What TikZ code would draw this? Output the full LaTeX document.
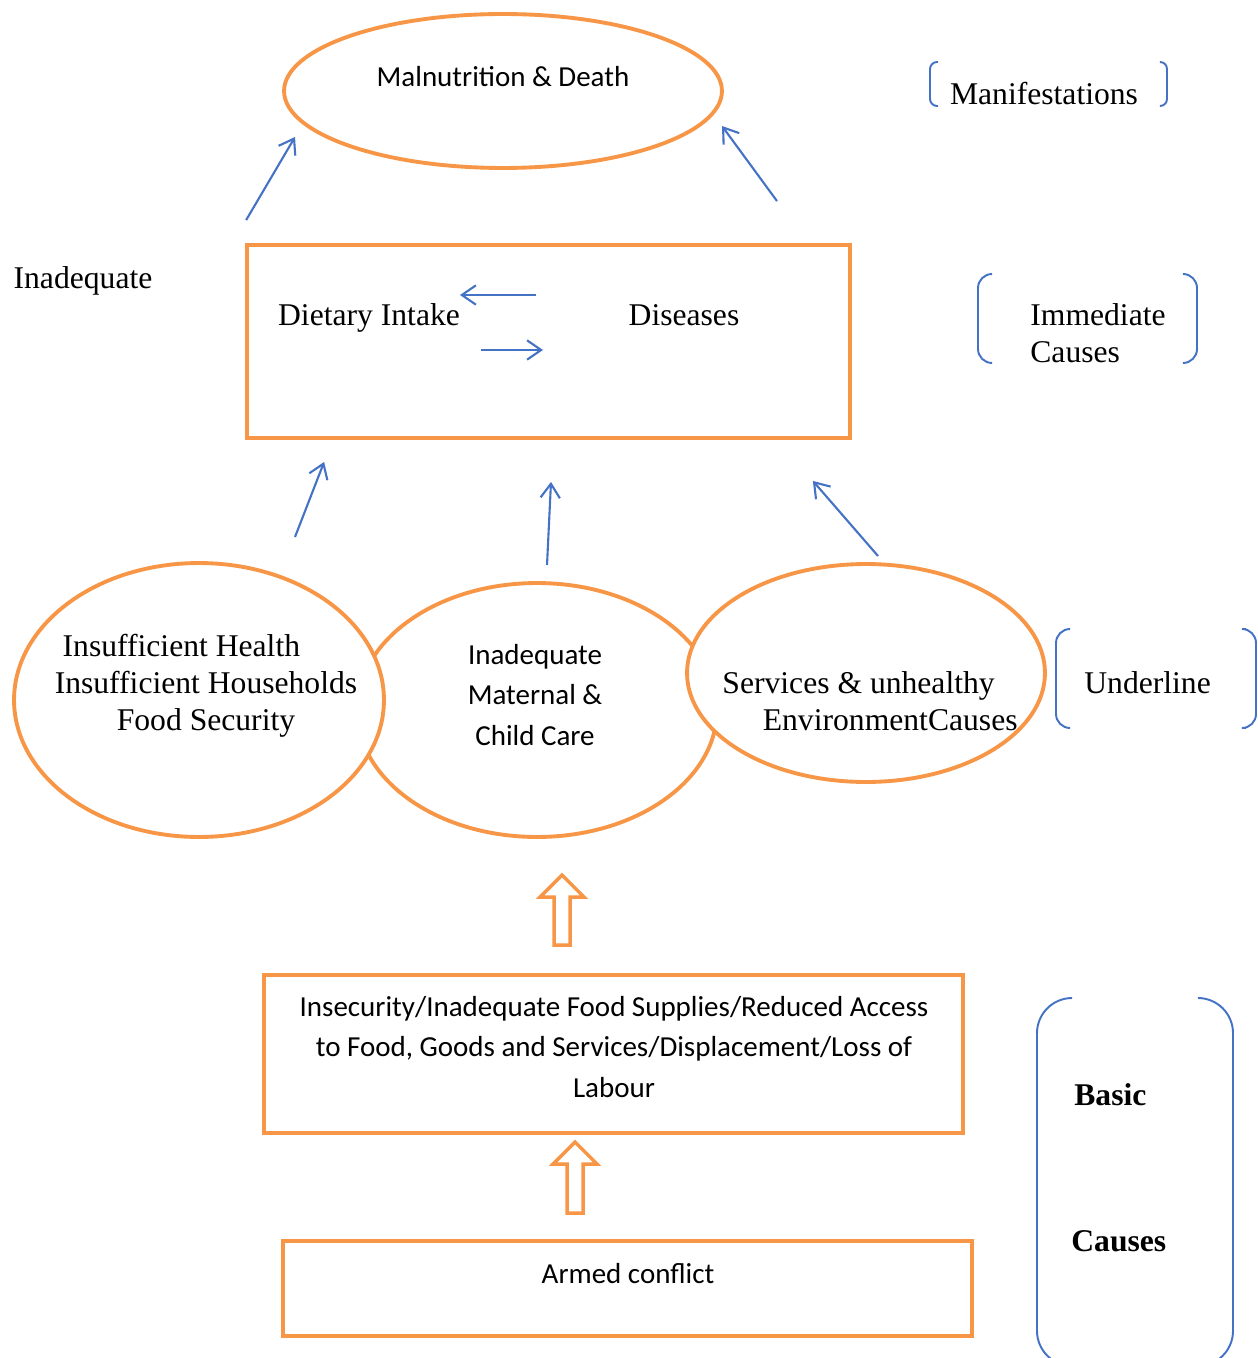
\documentclass[tikz,border=0pt]{standalone}
\usepackage{fontspec}
\setmainfont{Liberation Serif}
\newfontfamily\calibri{Carlito}
\usetikzlibrary{arrows.meta,shapes.geometric}

\definecolor{orangeline}{RGB}{247,150,70}
\definecolor{blueline}{RGB}{68,114,196}

\tikzset{
  oval/.style={ellipse,draw=orangeline,line width=2.2pt,fill=white,inner sep=0pt},
  frame/.style={rectangle,draw=orangeline,line width=2.2pt,inner sep=0pt},
  serif/.style={inner sep=0pt,font=\fontsize{18}{21}\selectfont},
  sans/.style={inner sep=0pt,font=\calibri\fontsize{16.5}{23}\selectfont},
  link/.style={draw=blueline,line width=1.2pt,-{Straight Barb[length=8pt,width=11pt]}},
  brace/.style={draw=blueline,line width=1.1pt},
  hollow/.style={draw=orangeline,line width=2pt,fill=white,line join=miter}
}

\begin{document}
\begin{tikzpicture}[x=0.02cm,y=-0.02cm]
\useasboundingbox (0,0) rectangle (1257,1358);

% manifestations
\node[oval,minimum width=8.76cm,minimum height=3.08cm] (mal) at (503,91) {};
\node[sans] (maltext) at (503,77) {Malnutrition \& Death};
\node[serif] (manif) at (1044,94) {Manifestations};
\draw[brace,rounded corners=4pt] (938,62) -- (930,62) -- (930,106) -- (938,106);
\draw[brace,rounded corners=4pt] (1160,62) -- (1167,62) -- (1167,106) -- (1160,106);

% immediate causes
\node[serif] (inad) at (83,281) {Inadequate};
\node[frame,minimum width=12.06cm,minimum height=3.86cm] (diet) at (548.5,341.5) {};
\node[serif] (dietary) at (369,318) {Dietary Intake};
\node[serif] (dis) at (684,315) {Diseases};
\node[serif,align=left,anchor=west] (immed) at (1030,333.5) {Immediate\\Causes};
\draw[brace,rounded corners=8pt] (992,274) -- (978,274) -- (978,363) -- (992,363);
\draw[brace,rounded corners=8pt] (1183,274) -- (1197,274) -- (1197,363) -- (1183,363);

\draw[link] ([shift={(1,-23)}]diet.north west) -- ([shift={(-208,46)}]mal.center);
\draw[link] ([shift={(228.5,-42)}]diet.north) -- ([shift={(219,35)}]mal.center);
\draw[link] ([shift={(-12.5,-46.5)}]diet.center) -- ([shift={(-88.5,-46.5)}]diet.center);
\draw[link] ([shift={(-67.5,8.5)}]diet.center) -- ([shift={(-5.5,8.5)}]diet.center);

% underlying causes
\node[oval,minimum width=7.2cm,minimum height=5.08cm] (care) at (537,710) {};
\node[oval,minimum width=7.4cm,minimum height=5.48cm] (food) at (199,700) {};
\node[oval,minimum width=7.16cm,minimum height=4.36cm] (env) at (866,673) {};
\node[serif,align=center] (foodtext) at (206,686)
  {Insufficient Health\hspace*{28pt}\\Insufficient Households\\Food Security};
\node[sans,align=center] (caretext) at (535,695) {Inadequate\\Maternal \&\\Child Care};
\node[serif,align=left] (envtext) at (870,701)
  {Services \& unhealthy\\\hspace*{23pt}EnvironmentCauses};
\node[serif,anchor=west] (under) at (1084,683) {Underline};
\draw[brace,rounded corners=8pt] (1070,629) -- (1056,629) -- (1056,728) -- (1070,728);
\draw[brace,rounded corners=8pt] (1246,629) -- (1256,629) -- (1256,728) -- (1246,728);

\draw[link] ([shift={(96,-163)}]food.center) -- ([shift={(79,22)}]diet.south west);
\draw[link] ([shift={(10,-145)}]care.center) -- ([shift={(2.5,42)}]diet.south);
\draw[link] ([shift={(12,-117)}]env.center) -- ([shift={(-39,41)}]diet.south east);

% basic causes
\draw[hollow] (554,945) -- (554,897) -- (540,897) -- (562,875) -- (584,897) -- (570,897) -- (570,945) -- cycle;
\node[frame,minimum width=13.98cm,minimum height=3.16cm] (supply) at (613.5,1054) {};
\node[sans,align=center] (supplytext) at (614,1047)
  {Insecurity/Inadequate Food Supplies/Reduced Access\\to Food, Goods and Services/Displacement/Loss of\\Labour};
\draw[hollow] (567,1213) -- (567,1164) -- (553,1164) -- (575,1142) -- (597,1164) -- (583,1164) -- (583,1213) -- cycle;
\node[frame,minimum width=13.78cm,minimum height=1.9cm] (war) at (627.5,1288.5) {};
\node[sans] (wartext) at (628,1274) {Armed conflict};

\node[serif,anchor=west,font=\fontsize{18}{21}\selectfont\bfseries] (basic) at (1074,1095) {Basic};
\node[serif,anchor=west,font=\fontsize{18}{21}\selectfont\bfseries] (causes) at (1071,1241) {Causes};
\draw[brace,rounded corners=20pt] (1070,998) -- (1037,998) -- (1037,1366) -- (1070,1366);
\draw[brace,rounded corners=20pt] (1200,998) -- (1233,998) -- (1233,1366) -- (1200,1366);
\end{tikzpicture}
\end{document}
